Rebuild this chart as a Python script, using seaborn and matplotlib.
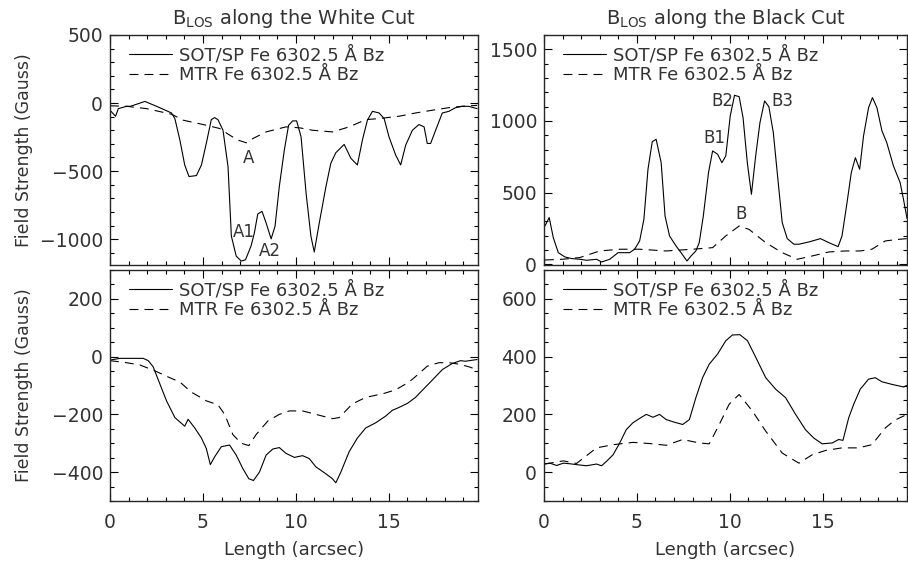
import numpy as np
import pandas as pd
import matplotlib
matplotlib.use("Agg")
import matplotlib.pyplot as plt
import seaborn as sns
from matplotlib.ticker import MultipleLocator

sns.set_style("ticks")
plt.rcParams['font.family'] = ['DejaVu Sans']
plt.rcParams['xtick.direction'] = 'in'
plt.rcParams['ytick.direction'] = 'in'

# White cut, SOT/SP (top left)
wc_sot_x = [0, 0.3, 0.45, 0.89, 1.1, 1.88, 2.59, 3.31, 3.49, 3.76, 4.02, 4.25, 4.65, 4.92, 5.18,
            5.45, 5.63, 5.81, 6.08, 6.35, 6.53, 6.79, 7.06, 7.29, 7.59, 7.77, 7.95, 8.18, 8.4, 8.67,
            8.88, 9.11, 9.38, 9.61, 9.83, 10.04, 10.28, 10.55, 10.81, 10.99, 11.26, 11.62, 11.88,
            12.15, 12.6, 12.96, 13.31, 13.58, 13.85, 14.12, 14.48, 14.75, 15.01, 15.37, 15.64,
            15.91, 16.27, 16.62, 16.9, 17.07, 17.25, 17.52, 17.88, 18.23, 18.59, 18.95, 19.3, 19.75]
wc_sot_y = [-53, -97, -41, -24, -24, 12, -29, -73, -114, -272, -455, -540, -533, -455, -297,
            -122, -107, -122, -200, -467, -978, -1124, -1161, -1152, -1050, -953, -815, -796, -881, -998,
            -905, -613, -345, -163, -131, -131, -248, -662, -978, -1095, -881, -613, -443,
            -365, -304, -406, -455, -272, -126, -61, -73, -114, -248, -382, -455,
            -309, -200, -158, -175, -297, -297, -200, -73, -61, -34, -24, -24, -41]

# White cut, MTR (top left)
wc_mtr_x = [0, 0.9, 1.97, 3.31, 3.94, 5.18, 5.9, 6.44, 6.88, 7.33, 7.7, 8.4, 9.47, 10.2, 10.9,
            11.97, 12.87, 13.76, 14.48, 15.55, 16.44, 17.33, 18.23, 18.95, 19.75]
wc_mtr_y = [-20, -24, -41, -82, -126, -163, -187, -236, -272, -292, -260, -212, -175, -182, -200,
            -212, -175, -122, -114, -97, -73, -53, -34, -24, -17]

# Black cut, SOT/SP (top right)
bc_sot_x = [0.05, 0.28, 0.5, 0.77, 1.13, 1.48, 1.93, 2.29, 2.83, 3.1, 3.54, 3.99, 4.61, 4.88, 5.15,
            5.38, 5.6, 5.83, 6.04, 6.31, 6.52, 6.76, 7.11, 7.38, 7.7, 7.92, 8.18, 8.36, 8.58, 8.86,
            9.08, 9.35, 9.58, 9.79, 10.03, 10.26, 10.51, 10.72, 10.95, 11.17, 11.4, 11.63, 11.88,
            12.11, 12.35, 12.65, 12.83, 13.1, 13.46, 13.73, 14.27, 14.89, 15.34, 15.84, 16.05,
            16.32, 16.55, 16.77, 17.0, 17.21, 17.48, 17.69, 17.93, 18.2, 18.46, 18.82, 19.18,
            19.36, 19.55]
bc_sot_y = [267, 326, 186, 81, 51, 40, 35, 28, 35, 16, 35, 81, 81, 105, 163,
            314, 663, 856, 872, 709, 337, 198, 128, 81, 23, 58, 93, 151, 337, 640,
            791, 768, 709, 756, 1035, 1179, 1170, 1023, 709, 488, 756, 988, 1140,
            1100, 919, 523, 291, 179, 140, 140, 156, 179, 151, 123, 198,
            430, 640, 744, 663, 896, 1093, 1163, 1093, 931, 849, 686, 570,
            454, 320]

# Black cut, MTR (top right)
bc_mtr_x = [0.05, 1.0, 1.93, 3.0, 4.08, 5.15, 6.58, 8.0, 9.08, 9.79, 10.51, 11.04, 11.94, 12.83,
            13.64, 14.44, 15.34, 16.23, 17.04, 17.66, 18.38, 19.09, 19.55]
bc_mtr_y = [30, 35, 47, 93, 105, 105, 93, 105, 116, 198, 267, 244, 151, 81,
            35, 58, 86, 93, 93, 105, 163, 174, 179]

# White cut, smoothed (bottom left)
wc2_sot_x = [0, 0.54, 1.25, 1.79, 2.06, 2.32, 2.68, 3.04, 3.49, 4.02, 4.2, 4.56, 4.92, 5.18, 5.4,
             5.63, 5.99, 6.43, 6.79, 7.15, 7.47, 7.72, 8.04, 8.4, 8.76, 9.11, 9.47, 9.92, 10.36,
             10.72, 11.08, 11.62, 11.97, 12.15, 12.42, 12.87, 13.31, 13.76, 14.3, 14.83, 15.19,
             15.55, 16.0, 16.44, 16.8, 17.33, 17.88, 18.41, 18.86, 19.12, 19.75]
wc2_sot_y = [-12, -6, -6, -6, -14, -35, -94, -153, -211, -241, -217, -247, -282, -318, -374,
             -347, -312, -306, -341, -388, -423, -429, -400, -341, -320, -315, -335, -349, -343,
             -353, -382, -406, -423, -437, -400, -329, -282, -247, -229, -206, -186,
             -176, -162, -141, -117, -82, -45, -24, -14, -16, -10]
wc2_mtr_x = [0, 0.89, 1.61, 2.41, 3.04, 3.76, 4.38, 5.18, 5.81, 6.17, 6.61, 7.06, 7.47, 7.86, 8.49,
             9.11, 9.65, 10.36, 11.08, 11.97, 12.33, 13.04, 13.76, 14.66, 15.37, 16.09, 16.62,
             17.07, 17.7, 18.23, 18.77, 19.3, 19.75]
wc2_mtr_y = [-14, -21, -29, -49, -68, -88, -123, -153, -167, -200, -270, -300, -308, -270, -223,
             -200, -188, -188, -200, -215, -211, -164, -141, -129, -115, -88, -59,
             -33, -21, -21, -26, -35, -45]

# Black cut, smoothed (bottom right)
bc2_sot_x = [0.05, 0.32, 0.68, 1.04, 1.39, 1.75, 2.29, 2.83, 3.1, 3.36, 3.72, 4.08, 4.43, 4.79,
             5.15, 5.51, 5.87, 6.22, 6.58, 7.02, 7.47, 7.83, 8.18, 8.54, 8.9, 9.35, 9.79, 10.15,
             10.55, 10.96, 11.41, 11.94, 12.48, 13.01, 13.55, 14.08, 14.53, 14.98, 15.52, 15.87,
             16.1, 16.41, 16.68, 17.03, 17.48, 17.84, 18.2, 18.73, 19.36, 19.55]
bc2_sot_y = [29, 31, 23, 31, 29, 26, 22, 28, 22, 37, 60, 101, 147, 171,
             186, 200, 190, 200, 182, 173, 165, 182, 258, 327, 374, 409, 455, 475,
             476, 455, 397, 327, 287, 258, 200, 147, 118, 98, 101, 113,
             110, 188, 235, 287, 322, 327, 313, 304, 295, 300]
bc2_mtr_x = [0.05, 1.04, 1.75, 2.83, 3.72, 4.79, 5.69, 6.58, 7.47, 8.36, 8.9, 9.44, 9.97, 10.51,
             11.23, 11.94, 12.83, 13.73, 14.44, 15.16, 16.05, 16.94, 17.66, 18.38, 18.9, 19.55]
bc2_mtr_y = [28, 39, 30, 84, 95, 103, 99, 93, 113, 101, 98, 165, 235, 269,
             211, 142, 66, 31, 60, 75, 84, 84, 95, 153, 180, 200]

sot_label = "SOT/SP Fe 6302.5 Å Bz"
mtr_label = "MTR Fe 6302.5 Å Bz"

panels = [
    (wc_sot_x, wc_sot_y, wc_mtr_x, wc_mtr_y, (-1190, 500), 500, 100, (0, 19.8)),
    (bc_sot_x, bc_sot_y, bc_mtr_x, bc_mtr_y, (-5, 1600), 500, 100, (0, 19.55)),
    (wc2_sot_x, wc2_sot_y, wc2_mtr_x, wc2_mtr_y, (-500, 300), 200, 50, (0, 19.8)),
    (bc2_sot_x, bc2_sot_y, bc2_mtr_x, bc2_mtr_y, (-100, 700), 200, 50, (0, 19.55)),
]

W, H = 908, 563
boxes = [(110, 35, 478, 265), (544, 35, 907, 265), (110, 270, 478, 501), (544, 270, 907, 501)]

fig = plt.figure(figsize=(9.08, 5.63), dpi=100)
txt = '#333333'
axes = []
for i, (box, p) in enumerate(zip(boxes, panels)):
    x0, y0, x1, y1 = box
    ax = fig.add_axes([x0 / W, 1 - y1 / H, (x1 - x0) / W, (y1 - y0) / H])
    sx, sy, mx, my, ylim, ymaj, ymin, xlim = p
    sns.lineplot(x=sx, y=sy, ax=ax, color='black', lw=0.8, label=sot_label, sort=False)
    sns.lineplot(x=mx, y=my, ax=ax, color='black', lw=0.8, label=mtr_label, sort=False,
                 linestyle=(0, (8, 5.5)))
    ax.set_xlim(*xlim)
    ax.set_ylim(*ylim)
    ax.xaxis.set_major_locator(MultipleLocator(5))
    ax.xaxis.set_minor_locator(MultipleLocator(1))
    ax.yaxis.set_major_locator(MultipleLocator(ymaj))
    ax.yaxis.set_minor_locator(MultipleLocator(ymin))
    ax.tick_params(which='both', top=True, right=True, direction='in', colors='black',
                   labelcolor=txt, labelsize=13.5, width=0.8)
    ax.tick_params(which='major', length=5.5)
    ax.tick_params(which='minor', length=3)
    ax.tick_params(axis='y', pad=5)
    ax.tick_params(axis='x', pad=9)
    for s in ax.spines.values():
        s.set_linewidth(1.0)
    w = x1 - x0
    h = y1 - y0
    leg = ax.legend(loc='upper left', frameon=False, fontsize=13, handlelength=2.4,
                    handletextpad=0.35, labelspacing=0.08, borderpad=0, borderaxespad=0,
                    bbox_to_anchor=(19 / w, 1 - 11 / h))
    for t in leg.get_texts():
        t.set_color(txt)
    if i < 2:
        ax.set_xticklabels([])
    else:
        ax.set_xlabel("Length (arcsec)", fontsize=13, color=txt)
        ax.xaxis.set_label_coords(0.5, -40 / h)
    if i % 2 == 0:
        ax.set_ylabel("Field Strength (Gauss)", fontsize=12.5, color=txt)
        ax.yaxis.set_label_coords(-77 / w, 0.5)
    axes.append(ax)

axes[0].set_title(r"B$_{\mathrm{LOS}}$ along the White Cut", fontsize=14, color=txt, pad=8)
axes[1].set_title(r"B$_{\mathrm{LOS}}$ along the Black Cut", fontsize=14, color=txt, pad=8)

tk = dict(fontsize=12, color=txt, ha='center', va='center')
axes[0].text(7.47, -404, "A", **tk)
axes[0].text(7.19, -949, "A1", **tk)
axes[0].text(8.58, -1088, "A2", **tk)
axes[1].text(9.17, 884, "B1", **tk)
axes[1].text(9.58, 1140, "B2", **tk)
axes[1].text(12.83, 1140, "B3", **tk)
axes[1].text(10.6, 349, "B", **tk)

fig.savefig("out.png", dpi=100)
